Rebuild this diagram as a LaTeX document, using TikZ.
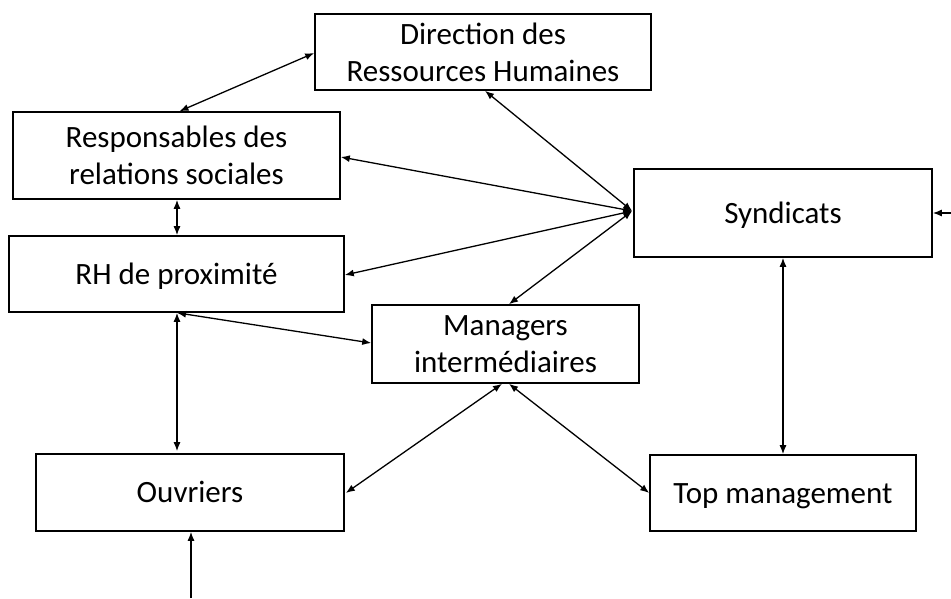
\documentclass[tikz,border=0pt]{standalone}
\usepackage{fontspec}
\setmainfont{Carlito}
\usetikzlibrary{arrows.meta,calc}
\begin{document}
\begin{tikzpicture}[x=1pt,y=-1pt,
  box/.style={draw, line width=1.6pt, inner sep=0pt, align=center,
    font=\fontsize{31}{37}\selectfont},
  oneline/.style={text height=20pt, text depth=0pt},
  link/.style={line width=1.3pt, {Latex[length=9pt,width=7pt]}-{Latex[length=9pt,width=7pt]}},
  oneway/.style={line width=1.3pt, -{Latex[length=9pt,width=7pt]}}]
\useasboundingbox (0,0) rectangle (951,598);
\node[box, minimum width=336pt, minimum height=76pt] (drh) at (483,52) {Direction des\\Ressources Humaines};
\node[box, minimum width=327pt, minimum height=87pt] (resp) at (176.5,155.5) {Responsables des\\relations sociales};
\node[box, oneline, minimum width=335pt, minimum height=76pt] (rh) at (176.5,274) {RH de proximité};
\node[box, oneline, minimum width=298pt, minimum height=88pt] (synd) at (783,213) {Syndicats};
\node[box, minimum width=267pt, minimum height=78pt] (mgr) at (505.5,344) {Managers\\intermédiaires};
\node[box, oneline, minimum width=308pt, minimum height=77pt] (ouv) at (190,492.5) {Ouvriers};
\node[box, oneline, minimum width=266pt, minimum height=76pt] (top) at (783,493) {Top management};
\coordinate (sp) at ($(synd.west)+(-1,-2)$);
\coordinate (inR) at (951,213);
\coordinate (inB) at (191,598);
\draw[link] ($(drh.west)+(0,1)$) -- ($(resp.north)+(3,0)$);
\draw[link] ($(drh.south)+(2,0)$) -- (sp);
\draw[link] ($(resp.east)+(0,1.5)$) -- (sp);
\draw[link] ($(rh.east)+(0,1)$) -- (sp);
\draw[link] ($(mgr.north)+(3.5,0)$) -- (sp);
\draw[link] ($(resp.south)+(0.5,0)$) -- ($(rh.north)+(0.5,0)$);
\draw[link] (synd.south) -- (top.north);
\draw[link] ($(rh.south)+(0.5,0)$) -- ($(mgr.west)+(0,-1)$);
\draw[link] ($(rh.south)+(0.5,0)$) -- ($(ouv.north)+(-13,-2)$);
\draw[link] ($(mgr.south)+(-3.5,0)$) -- ($(ouv.east)+(1,0.5)$);
\draw[link] ($(mgr.south)+(3.5,0)$) -- (top.west);
\draw[oneway] (inR) -- (synd.east);
\draw[oneway] (inB) -- ($(ouv.south)+(1,0)$);
\end{tikzpicture}
\end{document}
